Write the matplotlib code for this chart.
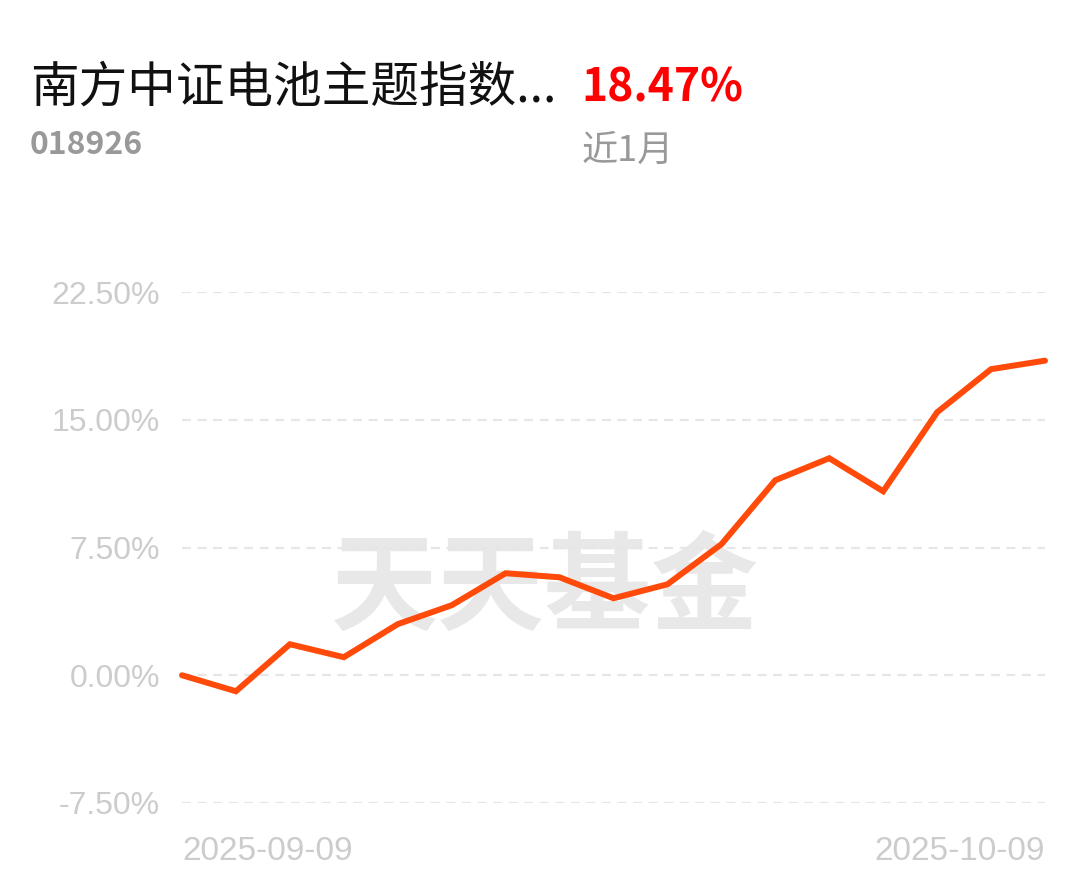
import matplotlib
matplotlib.use("Agg")
import matplotlib.pyplot as plt

dates = ["2025-09-09", "2025-09-10", "2025-09-11", "2025-09-12", "2025-09-15",
         "2025-09-16", "2025-09-17", "2025-09-18", "2025-09-19", "2025-09-22",
         "2025-09-23", "2025-09-24", "2025-09-25", "2025-09-26", "2025-09-29",
         "2025-09-30", "2025-10-09"]
returns = [0.00, -0.94, 1.82, 1.06, 3.00, 4.11, 5.99, 5.75, 4.52, 5.34,
           7.69, 11.45, 12.74, 10.80, 15.44, 17.97, 18.47]
yticks = [-7.5, 0.0, 7.5, 15.0, 22.5]
ytick_labels = ["-7.50%", "0.00%", "7.50%", "15.00%", "22.50%"]
title = "南方中证电池主题指数..."
code = "018926"
period_return = "18.47%"
period_label = "近1月"
watermark = "天天基金"

cjk = ["Noto Sans CJK SC", "DejaVu Sans"]
sans = ["Liberation Sans", "DejaVu Sans"]

W, H = 1089, 881
fig = plt.figure(figsize=(W / 100, H / 100), dpi=100)
fig.patch.set_facecolor("white")

# watermark behind everything
fig.text(545 / W, 1 - 590 / H, watermark, ha="center", va="center",
         family=cjk, fontsize=77, fontweight="bold", color="#e8e8e8", zorder=0)

left, right = 182 / W, 1045 / W
bottom, top = 1 - 803 / H, 1 - 292 / H
ax = fig.add_axes([left, bottom, right - left, top - bottom])
ax.set_zorder(2)
ax.patch.set_visible(False)
x = list(range(len(returns)))
ax.set_xlim(0, len(returns) - 1)
ax.set_ylim(-7.5, 22.5)

for yv in yticks:
    ax.axhline(yv, color="#e6e6e6", lw=1.6, ls=(0, (4, 3)), zorder=1)

ax.plot(x, returns, color="#ff4a0a", lw=4.3, solid_joinstyle="miter",
        solid_capstyle="round", clip_on=False, zorder=3)

ax.set_yticks(yticks)
ax.set_yticklabels(ytick_labels, family=sans, fontsize=23, color="#cccccc")
ax.tick_params(axis="y", length=0, pad=16)
ax.set_xticks([])
for s in ax.spines.values():
    s.set_visible(False)

# x labels
ax.text(0, -0.065, dates[0], transform=ax.transAxes, ha="left", va="top",
        family=sans, fontsize=24, color="#cccccc")
ax.text(1, -0.065, dates[-1], transform=ax.transAxes, ha="right", va="top",
        family=sans, fontsize=24, color="#cccccc")

# header
fig.text(30 / W, 1 - 88 / H, title, ha="left", va="center", family=cjk,
         fontsize=35, color="#111111")
fig.text(581 / W, 1 - 88 / H, period_return, ha="left", va="center",
         family=cjk, fontsize=32, fontweight="bold", color="#ff0000")
fig.text(30 / W, 1 - 145 / H, code, ha="left", va="center",
         family=cjk, fontsize=23, fontweight="bold", color="#999999")
fig.text(582 / W, 1 - 151 / H, period_label, ha="left", va="center",
         family=cjk, fontsize=26, color="#999999")

fig.savefig("out.png", dpi=100, facecolor="white")
